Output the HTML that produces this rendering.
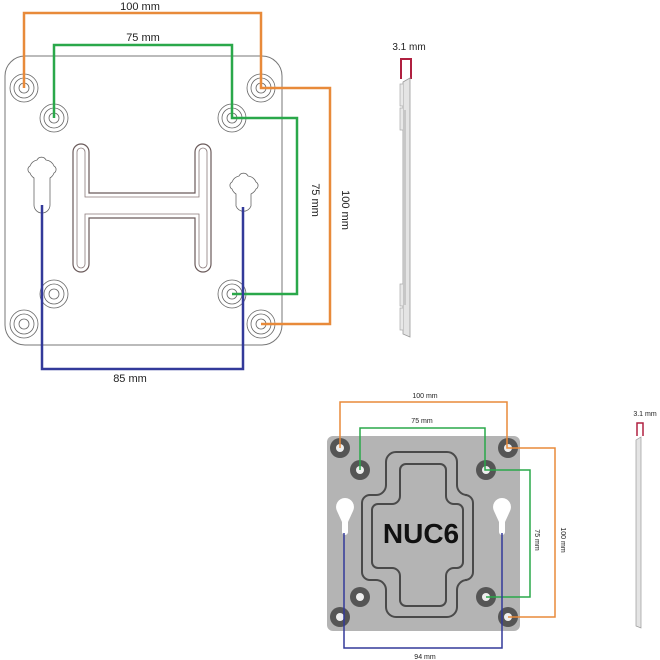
<!DOCTYPE html>
<html><head><style>html,body{margin:0;padding:0;background:#fff;}svg{display:block}</style></head>
<body>
<svg width="660" height="660" viewBox="0 0 660 660" xmlns="http://www.w3.org/2000/svg" font-family="Liberation Sans, sans-serif">
<!-- TOP PLATE -->
<rect x="5" y="56" width="277" height="289" rx="20" fill="#fff" stroke="#777" stroke-width="1"/>
<g fill="none" stroke="#666" stroke-width="0.8">
 <circle cx="24" cy="88" r="14"/><circle cx="24" cy="88" r="10"/><circle cx="24" cy="88" r="5"/>
 <circle cx="261" cy="88" r="14"/><circle cx="261" cy="88" r="10"/><circle cx="261" cy="88" r="5"/>
 <circle cx="24" cy="324" r="14"/><circle cx="24" cy="324" r="10"/><circle cx="24" cy="324" r="5"/>
 <circle cx="261" cy="324" r="14"/><circle cx="261" cy="324" r="10"/><circle cx="261" cy="324" r="5"/>
 <circle cx="54" cy="118" r="14"/><circle cx="54" cy="118" r="10"/><circle cx="54" cy="118" r="5"/>
 <circle cx="232" cy="118" r="14"/><circle cx="232" cy="118" r="10"/><circle cx="232" cy="118" r="5"/>
 <circle cx="54" cy="294" r="14"/><circle cx="54" cy="294" r="10"/><circle cx="54" cy="294" r="5"/>
 <circle cx="232" cy="294" r="14"/><circle cx="232" cy="294" r="10"/><circle cx="232" cy="294" r="5"/>
 <!-- H -->
 <path d="M73,152 a8,8 0 0 1 16,0 V193 H195 V152 a8,8 0 0 1 16,0 V264 a8,8 0 0 1 -16,0 V218 H89 V264 a8,8 0 0 1 -16,0 Z" stroke="#6a5a5a" stroke-width="1.2"/>
 <path d="M77,152 a4,4 0 0 1 8,0 V197 H199 V152 a4,4 0 0 1 8,0 V264 a4,4 0 0 1 -8,0 V214 H85 V264 a4,4 0 0 1 -8,0 Z" stroke="#8a7a7a" stroke-width="0.8"/>
 <!-- keyholes -->
 <path d="M37,160 a5,5 0 0 1 9,0 a10,10 0 0 1 8,6 a4,4 0 0 1 0,7 a10,10 0 0 1 -4,5 V205 a8,8 0 0 1 -16,0 V178 a10,10 0 0 1 -4,-5 a4,4 0 0 1 0,-7 a10,10 0 0 1 7,-6 Z"/>
 <path d="M239,176 a5,5 0 0 1 9,0 a10,10 0 0 1 8,6 a4,4 0 0 1 0,7 a10,10 0 0 1 -5,5 V206 a8,8 0 0 1 -15,0 V194 a10,10 0 0 1 -4,-5 a4,4 0 0 1 0,-7 a10,10 0 0 1 7,-6 Z"/>
</g>
<!-- dimension lines top -->
<g fill="none" stroke-width="2.5">
 <path d="M24,88 V13 H261 V88 H330 V324 H261" stroke="#e88a3a"/>
 <path d="M54,118 V45 H232 V118 H297 V294 H232" stroke="#2aa84a"/>
 <path d="M42,205 V369 H243 V207" stroke="#333a9a"/>
</g>
<g font-size="11" fill="#222" text-anchor="middle">
 <text x="140" y="10">100 mm</text>
 <text x="143" y="41">75 mm</text>
 <text x="130" y="382">85 mm</text>
 <text transform="translate(312,200) rotate(90)">75 mm</text>
 <text transform="translate(342,210) rotate(90)">100 mm</text>
 <text x="409" y="50" font-size="10">3.1 mm</text>
</g>
<!-- side view top -->
<path d="M401,79 V59 H411 V79" fill="none" stroke="#b02040" stroke-width="2"/>
<path d="M403,82 L410,78 V337 L403,334 Z" fill="#e4e4e4" stroke="#999" stroke-width="0.8"/>
<path d="M403,84 h-3 v22 h3 M403,108 h-3 v22 h3 M403,284 h-3 v22 h3 M403,308 h-3 v22 h3" fill="#e8e8e8" stroke="#aaa" stroke-width="0.7"/>
<line x1="405" y1="110" x2="405" y2="305" stroke="#aaa"/>
<!-- BOTTOM PLATE -->
<rect x="327" y="436" width="193" height="195" rx="6" fill="#b4b4b4"/>
<g fill="none" stroke="#4a4a4a" stroke-width="2">
 <path d="M386,462 a10,10 0 0 1 10,-10 H447 a10,10 0 0 1 10,10 V485 a10,10 0 0 0 10,10 h-2 a8,8 0 0 1 8,8 V572 a8,8 0 0 1 -8,8 h2 a10,10 0 0 0 -10,10 V607 a10,10 0 0 1 -10,10 H396 a10,10 0 0 1 -10,-10 V590 a10,10 0 0 0 -10,-10 h-6 a8,8 0 0 1 -8,-8 V503 a8,8 0 0 1 8,-8 h6 a10,10 0 0 0 10,-10 Z"/>
 <path d="M400,470 a6,6 0 0 1 6,-6 H440 a6,6 0 0 1 6,6 V496 a8,8 0 0 0 8,8 h3 a6,6 0 0 1 6,6 V562 a6,6 0 0 1 -6,6 h-3 a8,8 0 0 0 -8,8 V600 a6,6 0 0 1 -6,6 H406 a6,6 0 0 1 -6,-6 V576 a8,8 0 0 0 -8,-8 h-14 a6,6 0 0 1 -6,-6 V510 a6,6 0 0 1 6,-6 h14 a8,8 0 0 0 8,-8 Z"/>
</g>
<g>
 <g fill="#555"><circle cx="340" cy="448" r="10"/><circle cx="508" cy="448" r="10"/><circle cx="340" cy="617" r="10"/><circle cx="508" cy="617" r="10"/><circle cx="360" cy="470" r="10"/><circle cx="486" cy="470" r="10"/><circle cx="360" cy="597" r="10"/><circle cx="486" cy="597" r="10"/></g>
 <g fill="#eee"><circle cx="340" cy="448" r="4"/><circle cx="508" cy="448" r="4"/><circle cx="340" cy="617" r="4"/><circle cx="508" cy="617" r="4"/><circle cx="360" cy="470" r="4"/><circle cx="486" cy="470" r="4"/><circle cx="360" cy="597" r="4"/><circle cx="486" cy="597" r="4"/></g>
 <path d="M345,498 a9,9 0 0 1 8,13 L348,522 V532 a3,3 0 0 1 -6,0 V522 L337,511 a9,9 0 0 1 8,-13 Z" fill="#fff"/>
 <path d="M502,498 a9,9 0 0 1 8,13 L505,522 V532 a3,3 0 0 1 -6,0 V522 L494,511 a9,9 0 0 1 8,-13 Z" fill="#fff"/>
</g>
<text x="421" y="543" font-size="28" font-weight="bold" text-anchor="middle" fill="#111" font-family="Liberation Sans, sans-serif">NUC6</text>
<g fill="none" stroke-width="1.5">
 <path d="M340,448 V402 H507 V448 H555 V617 H508" stroke="#e88a3a"/>
 <path d="M360,470 V428 H485 V470 H530 V597 H486" stroke="#2aa84a"/>
 <path d="M344,533 V648 H502 V533" stroke="#333a9a"/>
</g>
<g font-size="7" fill="#222" text-anchor="middle">
 <text x="425" y="398">100 mm</text>
 <text x="422" y="423">75 mm</text>
 <text x="425" y="659">94 mm</text>
 <text transform="translate(535,540) rotate(90)">75 mm</text>
 <text transform="translate(561,540) rotate(90)">100 mm</text>
 <text x="645" y="416">3.1 mm</text>
</g>
<path d="M637,436 V423 H643 V436" fill="none" stroke="#b02040" stroke-width="1.5"/>
<path d="M636,440 L641,437 V628 L636,626 Z" fill="#e4e4e4" stroke="#999" stroke-width="0.7"/>
</svg>
</body></html>
